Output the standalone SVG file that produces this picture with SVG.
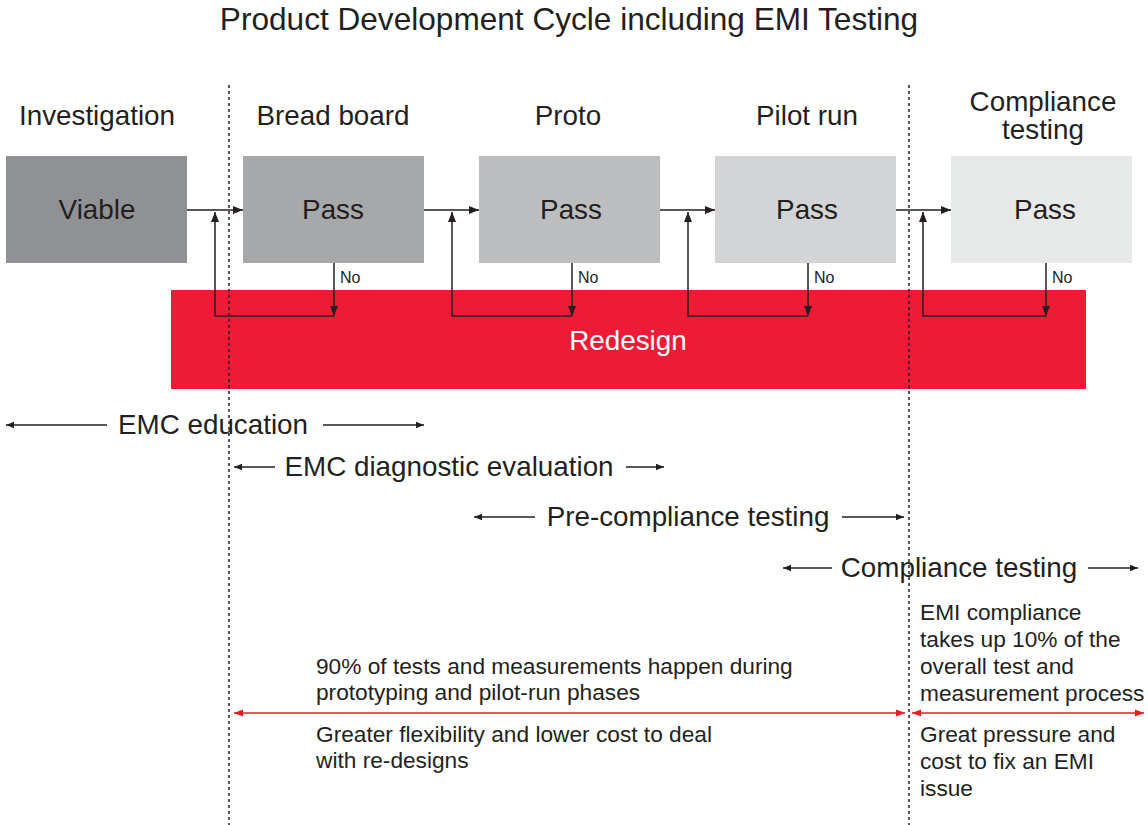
<svg xmlns="http://www.w3.org/2000/svg" width="1148" height="825" viewBox="0 0 1148 825">
<defs>
<marker id="ah" viewBox="0 0 10 10" refX="10" refY="5" markerWidth="10" markerHeight="10" markerUnits="userSpaceOnUse" orient="auto"><path d="M0,1 L10,5 L0,9 Z" fill="#231f20"/></marker>
<marker id="ahr" viewBox="0 0 10 10" refX="10" refY="5" markerWidth="9" markerHeight="9" markerUnits="userSpaceOnUse" orient="auto-start-reverse"><path d="M0,1 L10,5 L0,9 Z" fill="#ed1c24"/></marker>
<marker id="ahs" viewBox="0 0 10 10" refX="10" refY="5" markerWidth="8" markerHeight="8" markerUnits="userSpaceOnUse" orient="auto-start-reverse"><path d="M0,1 L10,5 L0,9 Z" fill="#231f20"/></marker>
</defs>
<style>
text{font-family:"Liberation Sans",Arial,sans-serif;fill:#231f20}
.h{font-size:27.8px;text-anchor:middle}
.b{font-size:27.8px;text-anchor:middle;dominant-baseline:central}
.s{font-size:16px}
.t{font-size:22.7px}
.c line,.c path{stroke:#231f20;stroke-width:1.5;fill:none}
.dot{stroke:#231f20;stroke-width:1.5;stroke-dasharray:3 3}
.c line.r{stroke:#ed1c24;stroke-width:1.5}
</style>
<rect width="1148" height="825" fill="#fff"/>
<text x="569" y="30" style="font-size:31.6px;text-anchor:middle">Product Development Cycle including EMI Testing</text>

<text class="h" x="97" y="125">Investigation</text>
<text class="h" x="333" y="125">Bread board</text>
<text class="h" x="568" y="125">Proto</text>
<text class="h" x="807" y="125">Pilot run</text>
<text class="h" x="1043" y="111">Compliance</text>
<text class="h" x="1043" y="139">testing</text>

<g id="redesign"><rect x="171" y="290" width="915" height="99" fill="#ed1b36"/><text class="b" x="628" y="340" style="fill:#fff">Redesign</text></g>
<g id="viable"><rect x="6" y="156" width="181" height="107" fill="#909194"/><text class="b" x="97" y="209">Viable</text></g>
<g id="pass1"><rect x="243" y="156" width="181" height="107" fill="#a7a8aa"/><text class="b" x="333" y="209">Pass</text></g>
<g id="pass2"><rect x="479" y="156" width="181" height="107" fill="#bcbdbf"/><text class="b" x="571" y="209">Pass</text></g>
<g id="pass3"><rect x="715" y="156" width="181" height="107" fill="#d3d4d6"/><text class="b" x="807" y="209">Pass</text></g>
<g id="pass4"><rect x="951" y="156" width="181" height="107" fill="#e7e8e8"/><text class="b" x="1045" y="209">Pass</text></g>

<line class="dot" x1="229" y1="85" x2="229" y2="825"/>
<line class="dot" x1="909" y1="85" x2="909" y2="825"/>

<g id="connectors" class="c">
<line x1="187" y1="210" x2="243" y2="210" marker-end="url(#ah)"/>
<line x1="424" y1="210" x2="479" y2="210" marker-end="url(#ah)"/>
<line x1="660" y1="210" x2="715" y2="210" marker-end="url(#ah)"/>
<line x1="896" y1="210" x2="951" y2="210" marker-end="url(#ah)"/>
<line x1="334" y1="263" x2="334" y2="316" marker-end="url(#ah)"/>
<path d="M334,316 H215 V212" marker-end="url(#ah)"/>
<line x1="572" y1="263" x2="572" y2="316" marker-end="url(#ah)"/>
<path d="M572,316 H452 V212" marker-end="url(#ah)"/>
<line x1="808" y1="263" x2="808" y2="316" marker-end="url(#ah)"/>
<path d="M808,316 H688 V212" marker-end="url(#ah)"/>
<line x1="1046" y1="263" x2="1046" y2="316" marker-end="url(#ah)"/>
<path d="M1046,316 H923 V212" marker-end="url(#ah)"/>

<line x1="107" y1="425" x2="6" y2="425" marker-end="url(#ahs)"/>
<line x1="323" y1="425" x2="424" y2="425" marker-end="url(#ahs)"/>
<line x1="275" y1="467" x2="234" y2="467" marker-end="url(#ahs)"/>
<line x1="626" y1="467" x2="664" y2="467" marker-end="url(#ahs)"/>
<line x1="535" y1="517" x2="474" y2="517" marker-end="url(#ahs)"/>
<line x1="842" y1="517" x2="904" y2="517" marker-end="url(#ahs)"/>
<line x1="832" y1="568" x2="783" y2="568" marker-end="url(#ahs)"/>
<line x1="1088" y1="568" x2="1138" y2="568" marker-end="url(#ahs)"/>
<line class="r" x1="234" y1="713" x2="905" y2="713" marker-start="url(#ahr)" marker-end="url(#ahr)"/>
<line class="r" x1="912" y1="713" x2="1144" y2="713" marker-start="url(#ahr)" marker-end="url(#ahr)"/>
</g>
<text class="s" x="340" y="283">No</text>
<text class="s" x="578" y="283">No</text>
<text class="s" x="814" y="283">No</text>
<text class="s" x="1052" y="283">No</text>

<text class="h" x="213" y="434">EMC education</text>
<text class="h" x="449" y="476">EMC diagnostic evaluation</text>
<text class="h" x="688" y="526">Pre-compliance testing</text>
<text class="h" x="959" y="577">Compliance testing</text>

<text class="t" x="316" y="674">90% of tests and measurements happen during</text>
<text class="t" x="316" y="700">prototyping and pilot-run phases</text>
<text class="t" x="316" y="742">Greater flexibility and lower cost to deal</text>
<text class="t" x="316" y="768">with re-designs</text>
<text class="t" x="920" y="620">EMI compliance</text>
<text class="t" x="920" y="647">takes up 10% of the</text>
<text class="t" x="920" y="674">overall test and</text>
<text class="t" x="920" y="701">measurement process</text>
<text class="t" x="920" y="742">Great pressure and</text>
<text class="t" x="920" y="769">cost to fix an EMI</text>
<text class="t" x="920" y="796">issue</text>
</svg>
